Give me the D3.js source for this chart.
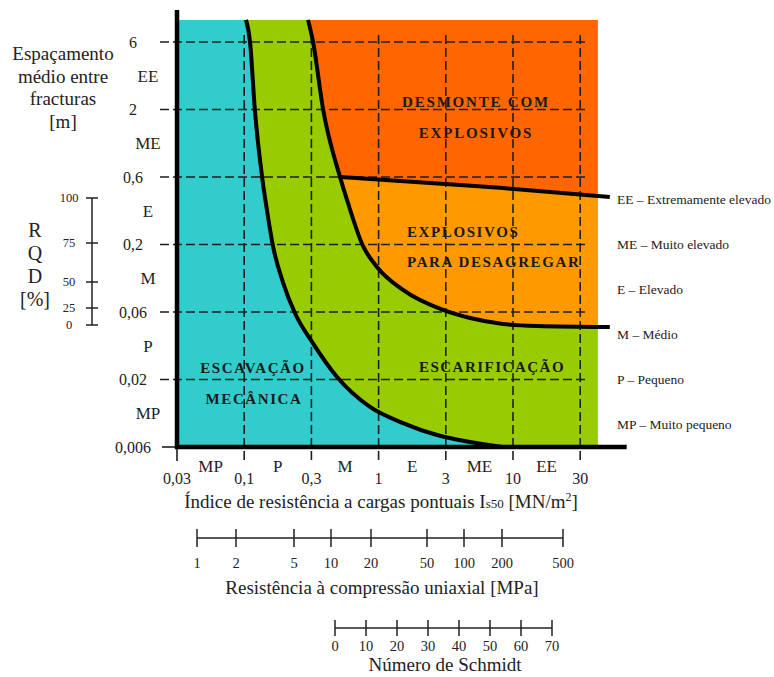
<!DOCTYPE html>
<html><head><meta charset="utf-8">
<script src="https://cdn.jsdelivr.net/npm/d3@7"></script>
<style>
html,body{margin:0;padding:0;background:#fff;}
svg text{font-family:"Liberation Serif","DejaVu Serif",serif;fill:#222;}
</style></head>
<body>
<svg id="c" width="774" height="677"></svg>
<script>
// ---------- data ----------
const xTicks = [0.03, 0.1, 0.3, 1, 3, 10, 30];
const xTickLabels = ["0,03", "0,1", "0,3", "1", "3", "10", "30"];
const xClassLabels = ["MP", "P", "M", "E", "ME", "EE"];
const yTicks = [6, 2, 0.6, 0.2, 0.06, 0.02, 0.006];
const yTickLabels = ["6", "2", "0,6", "0,2", "0,06", "0,02", "0,006"];
const yClassLabels = ["EE", "ME", "E", "M", "P", "MP"];
const xMin = 0.03, xMax = 41, xLineEnd = 51, xAxisEnd = 69;
const yMin = 0.006, yMax = 8.9;
// boundary curves [Is50, spacing]
const curveMech = [[0.103,8.9],[0.110,6],[0.119,2],[0.134,0.6],[0.145,0.351],[0.160,0.195],[0.189,0.101],[0.229,0.059],[0.309,0.036],[0.475,0.0208],[0.857,0.01225],[1.49,0.0092],[2.60,0.00743],[4.63,0.00656],[8.3,0.006]];
const curveRip = [[0.284,8.9],[0.309,6],[0.370,2],[0.501,0.6],[0.568,0.413],[0.756,0.195],[0.971,0.134],[1.49,0.0889],[2.87,0.0622],[4.63,0.0544],[8.36,0.0494],[14.8,0.0478],[51,0.047]];
const curveBlast = [[0.501,0.6],[2.96,0.535],[8.36,0.501],[51,0.433]];
const rqdTicks = [0, 25, 50, 75, 100];
const ucsTicks = [1, 2, 5, 10, 20, 50, 100, 200, 500];
const schmidtTicks = [0, 10, 20, 30, 40, 50, 60, 70];
const legendItems = ["EE – Extremamente elevado", "ME – Muito elevado", "E – Elevado", "M – Médio", "P – Pequeno", "MP – Muito pequeno"];
const yTitle = ["Espaçamento", "médio entre", "fracturas", "[m]"];
const rqdTitle = ["R", "Q", "D", "[%]"];
const colors = {mech: "#33CCCC", rip: "#99CC00", loosen: "#FF9900", blast: "#FF6600"};

// ---------- scales ----------
const x = d3.scaleLog().domain([0.03,0.1,0.3,1,3,10,30,100]).range([177,244.2,311.4,378.6,445.8,513,580.2,647.4]);
const y = d3.scaleLog().domain([0.006,0.02,0.06,0.2,0.6,2,6,20]).range([447,379.5,312,244.5,177,109.5,42,-25.5]);
const rqd = d3.scaleLinear().domain([0,25,50,75,100]).range([325,308,282,243,198]);
const ucs = d3.scaleLog().domain([1,2,5,10,20,50,100,200,500]).range([197,236,294,331,371,427,464,502,563]);
const sch = d3.scaleLinear().domain([0,70]).range([335,552]);

const svg = d3.select("#c");
const line = d3.line().x(d => x(d[0])).y(d => y(d[1]));
const smooth = d3.line().x(d => x(d[0])).y(d => y(d[1])).curve(d3.curveMonotoneX);

// clip for zones
svg.append("clipPath").attr("id","plotclip").append("rect")
  .attr("x", x(xMin)).attr("y", y(yMax)).attr("width", x(xMax)-x(xMin)).attr("height", y(yMin)-y(yMax));
const zones = svg.append("g").attr("clip-path","url(#plotclip)");
zones.append("path").attr("fill", colors.mech)
  .attr("d", line([[xMin,yMax],[xLineEnd,yMax],[xLineEnd,yMin],[xMin,yMin]]) + "Z");
zones.append("path").attr("fill", colors.rip)
  .attr("d", smooth(curveMech) + "L" + x(xLineEnd) + "," + y(yMin) + "L" + x(xLineEnd) + "," + y(yMax) + "Z");
zones.append("path").attr("fill", colors.loosen)
  .attr("d", smooth(curveRip) + "L" + x(xLineEnd) + "," + y(yMax) + "Z");
const ripUpper = curveRip.filter(d => d[1] >= 0.6);
zones.append("path").attr("fill", colors.blast)
  .attr("d", smooth(ripUpper) + smooth(curveBlast).replace(/^M/, "L") + "L" + x(xLineEnd) + "," + y(yMax) + "Z");

// dashed grid
const grid = svg.append("g").attr("stroke","#1e1e1e").attr("stroke-width",1.6).attr("stroke-dasharray","9,4").attr("fill","none");
yTicks.filter(v => v > yMin).forEach(v => {
  grid.append("line").attr("x1",160).attr("x2",587).attr("y1",y(v)).attr("y2",y(v));
});
xTicks.filter(v => v > xMin).forEach(v => {
  grid.append("line").attr("x1",x(v)).attr("x2",x(v)).attr("y1",35).attr("y2",463);
});
svg.append("line").attr("x1",x(xMin)).attr("x2",x(xMin)).attr("y1",y(yMin)).attr("y2",461).attr("stroke","#1e1e1e").attr("stroke-width",1.6);
svg.append("line").attr("x1",162).attr("x2",x(xMin)).attr("y1",y(yMin)).attr("y2",y(yMin)).attr("stroke","#1e1e1e").attr("stroke-width",1.6);

// boundary curves
const curves = svg.append("g").attr("fill","none").attr("stroke","#000").attr("stroke-width",4).attr("stroke-linejoin","round");
[curveMech, curveRip, curveBlast].forEach(c => curves.append("path").attr("d", smooth(c)));

// axes
svg.append("line").attr("x1",x(xMin)).attr("x2",x(xMin)).attr("y1",10).attr("y2",y(yMin)+2).attr("stroke","#000").attr("stroke-width",4.5);
svg.append("line").attr("x1",x(xMin)-2).attr("x2",x(xAxisEnd)).attr("y1",y(yMin)).attr("y2",y(yMin)).attr("stroke","#000").attr("stroke-width",4.5);

// y labels
const yl = svg.append("g");
yTicks.forEach((v,i) => {
  yl.append("text").attr("x",133).attr("y",y(v)).attr("dy","0.35em").attr("text-anchor","middle").style("font-size","16px").text(yTickLabels[i]);
});
yClassLabels.forEach((t,i) => {
  const mid = (y(yTicks[i]) + y(yTicks[i+1]))/2;
  yl.append("text").attr("x",148).attr("y",mid).attr("dy","0.35em").attr("text-anchor","middle").style("font-size","17px").text(t);
});
yTitle.forEach((t,i) => {
  yl.append("text").attr("x",63).attr("y",60 + i*22.5).attr("text-anchor","middle").style("font-size","19px").text(t);
});

// x labels
const xl = svg.append("g");
xTicks.forEach((v,i) => {
  xl.append("text").attr("x",x(v)).attr("y",484).attr("text-anchor","middle").style("font-size","16px").text(xTickLabels[i]);
});
xClassLabels.forEach((t,i) => {
  const mid = (x(xTicks[i]) + x(xTicks[i+1]))/2;
  xl.append("text").attr("x",mid).attr("y",472).attr("text-anchor","middle").style("font-size","17px").text(t);
});
const xt = xl.append("text").attr("x",381).attr("y",508).attr("text-anchor","middle").style("font-size","19px");
xt.append("tspan").text("Índice de resistência a cargas pontuais  I");
xt.append("tspan").style("font-size","13px").text("s50");
xt.append("tspan").text(" [MN/m");
xt.append("tspan").style("font-size","12px").attr("dy",-7).text("2");
xt.append("tspan").attr("dy",7).text("]");

// RQD scale
const rq = svg.append("g");
rq.append("line").attr("x1",92).attr("x2",92).attr("y1",rqd(100)).attr("y2",rqd(0)).attr("stroke","#222").attr("stroke-width",1.5);
rqdTicks.forEach(v => {
  rq.append("line").attr("x1",86).attr("x2",98).attr("y1",rqd(v)).attr("y2",rqd(v)).attr("stroke","#222").attr("stroke-width",1.5);
  rq.append("text").attr("x",69).attr("y",rqd(v)).attr("dy","0.35em").attr("text-anchor","middle").style("font-size","12.5px").text(v);
});
rqdTitle.forEach((t,i) => {
  rq.append("text").attr("x",35).attr("y",237 + i*23).attr("text-anchor","middle").style("font-size","20px").text(t);
});

// UCS scale
const uc = svg.append("g");
uc.append("line").attr("x1",ucs(1)).attr("x2",ucs(500)).attr("y1",538).attr("y2",538).attr("stroke","#222").attr("stroke-width",1.5);
ucsTicks.forEach(v => {
  uc.append("line").attr("x1",ucs(v)).attr("x2",ucs(v)).attr("y1",529).attr("y2",547).attr("stroke","#222").attr("stroke-width",1.5);
  uc.append("text").attr("x",ucs(v)).attr("y",568).attr("text-anchor","middle").style("font-size","14.5px").text(v);
});
uc.append("text").attr("x",382).attr("y",594).attr("text-anchor","middle").style("font-size","19px").text("Resistência à compressão uniaxial [MPa]");

// Schmidt scale
const sc = svg.append("g");
sc.append("line").attr("x1",sch(0)).attr("x2",sch(70)).attr("y1",628).attr("y2",628).attr("stroke","#222").attr("stroke-width",1.5);
schmidtTicks.forEach(v => {
  sc.append("line").attr("x1",sch(v)).attr("x2",sch(v)).attr("y1",620).attr("y2",636).attr("stroke","#222").attr("stroke-width",1.5);
  sc.append("text").attr("x",sch(v)).attr("y",651).attr("text-anchor","middle").style("font-size","14.5px").text(v);
});
sc.append("text").attr("x",445).attr("y",671).attr("text-anchor","middle").style("font-size","19px").text("Número de Schmidt");

// legend
legendItems.forEach((t,i) => {
  svg.append("text").attr("x",617).attr("y",204 + i*45).style("font-size","13.5px").text(t);
});

// zone labels
const zl = svg.append("g").style("font-weight","bold").style("font-size","15px");
function zt(t, px, py, anchor, ls){
  zl.append("text").attr("x",px).attr("y",py).attr("text-anchor",anchor).style("letter-spacing",ls+"px").style("fill","#1a1a1a").text(t);
}
zt("DESMONTE COM", 476, 107, "middle", 1.8);
zt("EXPLOSIVOS", 476, 138, "middle", 1.8);
zt("EXPLOSIVOS", 407, 237, "start", 1.6);
zt("PARA DESAGREGAR", 407, 267, "start", 1.6);
zt("ESCAVAÇÃO", 253, 373, "middle", 1.6);
zt("MECÂNICA", 254, 404, "middle", 1.6);
zt("ESCARIFICAÇÃO", 492, 372, "middle", 1.5);
</script>
</body></html>
